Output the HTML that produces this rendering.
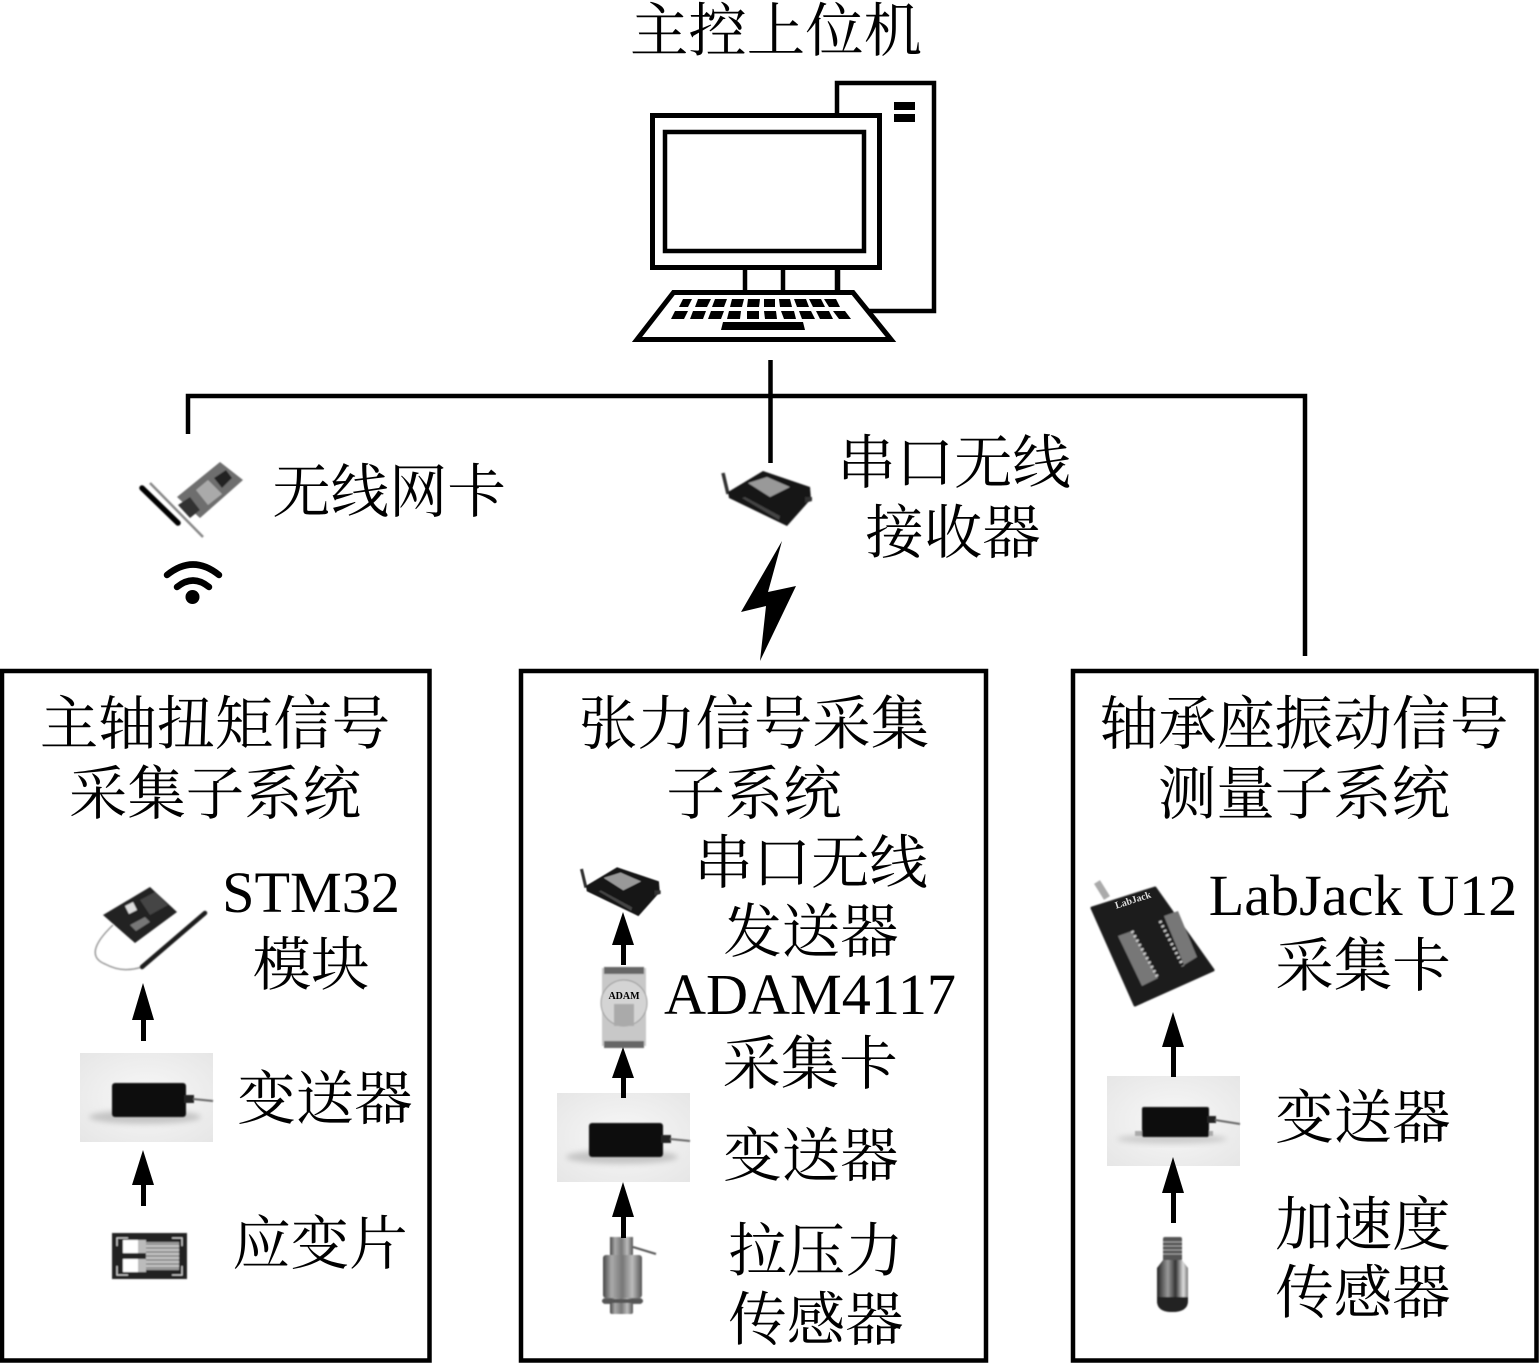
<!DOCTYPE html>
<html lang="zh"><head><meta charset="utf-8"><title>系统结构图</title>
<style>
html,body{margin:0;padding:0;background:#fff}
svg{display:block}
text{fill:#000;text-anchor:middle;font-size:58.4px}
.c{font-family:"Liberation Serif","Noto Serif CJK SC",serif}
.l{font-family:"Liberation Serif",serif;font-size:58.2px}
</style></head><body>
<svg xmlns="http://www.w3.org/2000/svg" width="1540" height="1364" viewBox="0 0 1540 1364">
<defs>
<filter id="b" x="-10%" y="-10%" width="120%" height="120%"><feGaussianBlur stdDeviation="0.7"/></filter>
<filter id="b2" x="-20%" y="-40%" width="140%" height="180%"><feGaussianBlur stdDeviation="3"/></filter>
<linearGradient id="metal" x1="0" x2="1" y1="0" y2="0">
<stop offset="0" stop-color="#444"/><stop offset=".22" stop-color="#aaa"/><stop offset=".5" stop-color="#777"/><stop offset=".75" stop-color="#bbb"/><stop offset="1" stop-color="#555"/></linearGradient>
<linearGradient id="acc" x1="0" x2="1" y1="0" y2="0">
<stop offset="0" stop-color="#222"/><stop offset=".35" stop-color="#999"/><stop offset=".6" stop-color="#333"/><stop offset=".85" stop-color="#ddd"/><stop offset="1" stop-color="#777"/></linearGradient>
<radialGradient id="bg" cx=".5" cy=".5" r=".7"><stop offset="0" stop-color="#f8f8f8"/><stop offset="1" stop-color="#e6e6e6"/></radialGradient>
<g id="router" filter="url(#b)">
<line x1="723" y1="473" x2="728" y2="494" stroke="#333" stroke-width="3.5"/>
<polygon points="728,492 763,471 810,487 811,499 787,526 729,498" fill="#141414"/>
<polygon points="748,483 767,477 790,487 770,497" fill="#999"/>
<polygon points="742,498 745,497 780,516 779,520" fill="#444"/>
<polygon points="805,497 812,497 812,501 805,503" fill="#333"/>
</g>
<g id="xmit">
<rect x="0" y="0" width="133" height="89" fill="url(#bg)"/>
<ellipse cx="65" cy="64" rx="56" ry="7" fill="#c4c4c4" filter="url(#b2)"/>
<g filter="url(#b)">
<rect x="32" y="30" width="74" height="34" rx="3" fill="#111"/>
<rect x="104" y="42" width="10" height="8" fill="#222"/>
<line x1="113" y1="46" x2="133" y2="48" stroke="#666" stroke-width="2"/>
</g>
</g>
</defs>
<rect width="1540" height="1364" fill="#fff"/>

<!-- computer -->
<g fill="none" stroke="#000">
<rect x="837" y="83" width="97" height="228" stroke-width="4.5"/>
<rect x="652.5" y="115.5" width="227" height="152" stroke-width="5" fill="#fff"/>
<rect x="665" y="132" width="199" height="119" stroke-width="4.5"/>
<path d="M745 270V291M783 270V291M838 270V291" stroke-width="4.5"/>
<polygon points="673.5,292.5 853,292.5 891,339.5 637,339.5" stroke-width="5" fill="#fff"/>
</g>
<rect x="894" y="102" width="21" height="8" fill="#000"/>
<rect x="894" y="114" width="21" height="8" fill="#000"/>
<g fill="#000">
<polygon points="683,299 692,299 688,307 679,307"/><polygon points="698,299 711,299 707,307 695,307"/><polygon points="715,299 727,299 724,307 712,307"/><polygon points="732,299 744,299 742,307 730,307"/><polygon points="748,299 760,299 759,307 747,307"/><polygon points="764,299 775,299 775,307 764,307"/><polygon points="779,299 790,299 792,307 780,307"/><polygon points="794,299 806,299 809,307 797,307"/><polygon points="809,299 821,299 825,307 813,307"/><polygon points="824,299 836,299 840,307 829,307"/>
<polygon points="675,311 688,311 684,319 671,319"/><polygon points="693,311 706,311 703,319 690,319"/><polygon points="711,311 724,311 721,319 708,319"/><polygon points="729,311 741,311 740,319 727,319"/><polygon points="747,311 759,311 759,319 747,319"/><polygon points="764,311 776,311 777,319 765,319"/><polygon points="781,311 794,311 796,319 784,319"/><polygon points="799,311 811,311 815,319 802,319"/><polygon points="816,311 829,311 833,319 820,319"/><polygon points="833,311 845,311 851,319 839,319"/>
<polygon points="723,322 803,322 805,330 721,330"/>
</g>

<!-- connectors -->
<path d="M188 434V396H1305V656" fill="none" stroke="#000" stroke-width="4.5"/>
<line x1="770.5" y1="360" x2="770.5" y2="463" stroke="#000" stroke-width="4.5"/>

<!-- boxes -->
<g fill="none" stroke="#000" stroke-width="4.5">
<rect x="2" y="671" width="427.5" height="689.5"/>
<rect x="521" y="671" width="465" height="689.5"/>
<rect x="1073" y="671" width="463.5" height="689.5"/>
</g>

<!-- network card -->
<g filter="url(#b)">
<path d="M150 483L203 537" stroke="#888" stroke-width="2.5"/>
<polygon points="177,497 220,462 243,480 200,518" fill="#6e6e6e"/>
<polygon points="196,490 208,480 222,494 208,505" fill="#aaa"/>
<polygon points="214,478 226,470 232,478 222,488" fill="#222"/>
<polygon points="178,505 190,497 200,510 190,518" fill="#333"/>
<line x1="142" y1="488" x2="178" y2="523" stroke="#000" stroke-width="5.500" stroke-linecap="round"/>
</g>
<!-- wifi -->
<g fill="none" stroke="#000" stroke-width="6.5" stroke-linecap="round">
<path d="M167 575Q193 554 219 575"/>
<path d="M177 587Q193 574 209 587"/>
</g>
<circle cx="192.500" cy="597" r="7" fill="#000"/>

<!-- router top -->
<use href="#router"/>
<polygon points="782,541 741,612 766,606 760,661 796,586 768,592" fill="#000"/>

<!-- left box images -->
<g filter="url(#b)">
<path d="M113 925C92 945 90 958 105 964C120 972 132 970 142 967" fill="none" stroke="#999" stroke-width="1.5"/>
<polygon points="103,915 150,887 177,912 135,943" fill="#222"/>
<polygon points="125,906 133,902 137,910 129,914" fill="#ddd"/>
<polygon points="140,900 155,892 168,905 150,915" fill="#444"/>
<polygon points="130,925 145,917 150,922 136,931" fill="#777"/>
<path d="M142 967L205 913" stroke="#1a1a1a" stroke-width="4.500" stroke-linecap="round"/>
</g>
<use href="#xmit" transform="translate(80,1053)"/>
<g filter="url(#b)">
<rect x="112" y="1233" width="75" height="46" fill="#222"/>
<rect x="123" y="1240" width="15" height="13" fill="#fff"/>
<rect x="123" y="1259" width="15" height="13" fill="#fff"/>
<rect x="146" y="1242" width="33" height="28" fill="#999"/>
<path d="M146 1246H179M146 1250H179M146 1254H179M146 1258H179M146 1262H179M146 1266H179" stroke="#ddd" stroke-width="1"/>
<path d="M117 1246V1238H128M172 1238H182V1246M117 1266V1275H128M172 1275H182V1266" fill="none" stroke="#ddd" stroke-width="1"/>
<rect x="138" y="1240" width="8" height="32" fill="#bbb"/>
<rect x="138" y="1253" width="8" height="6" fill="#222"/>
</g>

<!-- middle box images -->
<use href="#router" transform="translate(-62,448) scale(.89)"/>
<g filter="url(#b)">
<rect x="602" y="968" width="44" height="78" fill="#c8c8c8"/>
<rect x="604" y="967" width="40" height="7" fill="#666"/>
<rect x="604" y="1041" width="40" height="7" fill="#666"/>
<circle cx="624" cy="1003" r="23" fill="#d4d4d4" stroke="#999" stroke-width="1"/>
<rect x="614" y="1004" width="20" height="22" fill="#aaa"/>
</g>
<text class="l" x="624" y="999" style="font-size:10px;font-weight:bold">ADAM</text>
<use href="#xmit" transform="translate(557,1093)"/>
<g filter="url(#b)">
<line x1="633" y1="1247" x2="656" y2="1254" stroke="#555" stroke-width="2"/>
<rect x="610" y="1237" width="23" height="18" fill="url(#metal)"/>
<rect x="603" y="1255" width="39" height="43" rx="3" fill="url(#metal)"/>
<rect x="603" y="1298" width="39" height="6" rx="2" fill="#666"/>
<rect x="610" y="1298" width="23" height="16" rx="2" fill="url(#metal)"/>
<rect x="602" y="1299" width="41" height="4" rx="2" fill="#555"/>
</g>

<!-- right box images -->
<g filter="url(#b)">
<line x1="1097" y1="882" x2="1107" y2="898" stroke="#aaa" stroke-width="7"/>
<polygon points="1092,908 1155,888 1213,970 1135,1005" fill="#1a1a1a" stroke="#1a1a1a" stroke-width="3" stroke-linejoin="round"/>
<polygon points="1118,936 1132,931 1158,978 1142,986" fill="#777"/>
<polygon points="1164,916 1178,911 1197,957 1184,965" fill="#777"/>
<line x1="1132" y1="931" x2="1158" y2="978" stroke="#ccc" stroke-width="3" stroke-dasharray="2 3"/>
<line x1="1160" y1="921" x2="1183" y2="966" stroke="#ccc" stroke-width="3" stroke-dasharray="2 3"/>
</g>
<text class="l" x="1134" y="903" transform="rotate(-18 1134 903)" style="font-size:10px;font-weight:bold;fill:#ddd">LabJack</text>
<rect x="1107" y="1076" width="133" height="90" fill="url(#bg)"/>
<ellipse cx="1172" cy="1139" rx="55" ry="5" fill="#ccc" filter="url(#b2)"/>
<g filter="url(#b)">
<rect x="1135" y="1131" width="78" height="5" fill="#aaa"/>
<rect x="1142" y="1107" width="67" height="30" rx="2" fill="#111"/>
<rect x="1207" y="1116" width="9" height="7" fill="#222"/>
<line x1="1215" y1="1120" x2="1240" y2="1124" stroke="#666" stroke-width="2"/>
</g>
<g filter="url(#b)">
<rect x="1163" y="1237" width="19" height="24" rx="2" fill="#555"/>
<path d="M1163 1242H1182M1163 1246H1182M1163 1250H1182M1163 1254H1182" stroke="#aaa" stroke-width="1"/>
<path d="M1157 1268L1163 1260H1182L1188 1268V1300Q1188 1312 1172 1312Q1157 1312 1157 1300Z" fill="url(#acc)"/>
<path d="M1157 1297H1188V1301Q1188 1312 1172 1312Q1157 1312 1157 1301Z" fill="#222"/>
</g>

<!-- arrows -->
<g fill="#000">
<path d="M143 983L154 1020H146V1041H141V1020H132Z"/>
<path d="M143 1150L154 1185H146V1206H141V1185H132Z"/>
<path d="M623 912L634 945H626V965H621V945H612Z"/>
<path d="M623 1047L634 1078H626V1098H621V1078H612Z"/>
<path d="M623 1182L634 1217H626V1238H621V1217H612Z"/>
<path d="M1173 1012L1184 1047H1176V1077H1171V1047H1162Z"/>
<path d="M1173 1157L1184 1193H1176V1223H1171V1193H1162Z"/>
</g>

<!-- labels -->
<text class="c" x="776" y="51">主控上位机</text>
<text class="c" x="389" y="512">无线网卡</text>
<text class="c" x="954" y="483">串口无线</text>
<text class="c" x="953" y="553">接收器</text>

<text class="c" x="215" y="744">主轴扭矩信号</text>
<text class="c" x="215" y="814">采集子系统</text>
<text class="l" x="311" y="912">STM32</text>
<text class="c" x="311" y="985">模块</text>
<text class="c" x="325" y="1119">变送器</text>
<text class="c" x="320" y="1264">应变片</text>

<text class="c" x="754" y="744">张力信号采集</text>
<text class="c" x="754" y="814">子系统</text>
<text class="c" x="811" y="883">串口无线</text>
<text class="c" x="811" y="952">发送器</text>
<text class="l" x="810" y="1014">ADAM4117</text>
<text class="c" x="810" y="1084">采集卡</text>
<text class="c" x="811" y="1176">变送器</text>
<text class="c" x="816" y="1271">拉压力</text>
<text class="c" x="816" y="1340">传感器</text>

<text class="c" x="1304" y="744">轴承座振动信号</text>
<text class="c" x="1304" y="814">测量子系统</text>
<text class="l" x="1363" y="915">LabJack U12</text>
<text class="c" x="1363" y="986">采集卡</text>
<text class="c" x="1363" y="1138">变送器</text>
<text class="c" x="1363" y="1245">加速度</text>
<text class="c" x="1363" y="1313">传感器</text>
</svg>
</body></html>
